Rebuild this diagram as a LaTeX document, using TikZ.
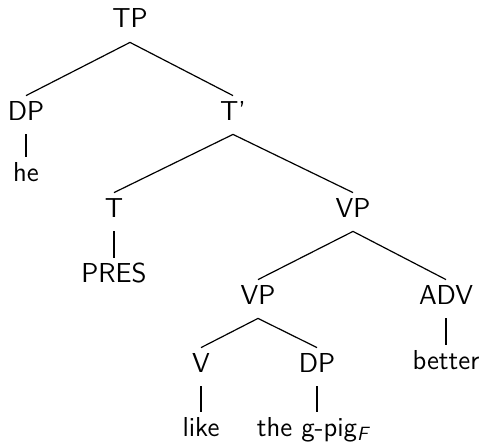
\documentclass[tikz,border=0pt]{standalone}
\begin{document}
\begin{tikzpicture}[x=0.5pt,y=-0.5pt,
  lab/.style={anchor=base,inner sep=0pt,text height=12pt,text depth=7pt,font=\sffamily\fontsize{13.7}{16}\selectfont},
  edge/.style={line width=0.6pt}]
\useasboundingbox (0,0) rectangle (486,444);
\node[lab] (tp) at (130,28) {TP};
\node[lab] (dp1) at (26,120) {DP};
\node[lab] (he) at (26,181) {he};
\node[lab] (tbar) at (233,120) {T'};
\node[lab] (t) at (114,217) {T};
\node[lab] (pres) at (114,282) {PRES};
\node[lab] (vp1) at (353,217) {VP};
\node[lab] (vp2) at (258,304) {VP};
\node[lab] (adv) at (446,304) {ADV};
\node[lab] (better) at (446,369) {better};
\node[lab] (v) at (201,372) {V};
\node[lab] (dp2) at (317,372) {DP};
\node[lab] (like) at (201,436) {like};
\node[lab] (gpig) at (314,436) {the g-pig\textsubscript{\textit{F}}};
\draw[edge] (tp.south) -- (dp1.north);
\draw[edge] (tp.south) -- (tbar.north);
\draw[edge] (dp1.south) -- (he.north);
\draw[edge] (tbar.south) -- (t.north);
\draw[edge] (tbar.south) -- (vp1.north);
\draw[edge] (t.south) -- (pres.north);
\draw[edge] (vp1.south) -- (vp2.north);
\draw[edge] (vp1.south) -- (adv.north);
\draw[edge] (adv.south) -- (better.north);
\draw[edge] (vp2.south) -- (v.north);
\draw[edge] (vp2.south) -- (dp2.north);
\draw[edge] (v.south) -- (like.north);
\draw[edge] (dp2.south) -- (dp2.south |- gpig.north);
\end{tikzpicture}
\end{document}
